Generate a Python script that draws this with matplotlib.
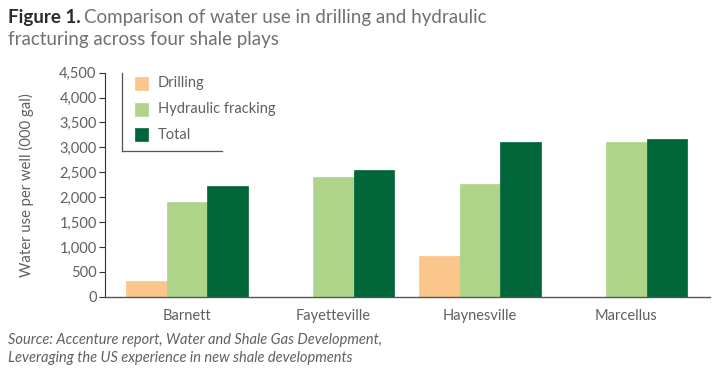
import numpy as np
import matplotlib
matplotlib.use("Agg")
from matplotlib import pyplot as plt
from matplotlib.lines import Line2D
from matplotlib.patches import Rectangle
from matplotlib.ticker import FuncFormatter

# data (thousand gallons per well)
plays = ["Barnett", "Fayetteville", "Haynesville", "Marcellus"]
drilling = [310, 0, 810, 0]
fracking = [1900, 2400, 2270, 3100]
total = [2230, 2550, 3100, 3170]
series_names = ["Drilling", "Hydraulic fracking", "Total"]
series_colors = ["#fbc68a", "#aed48a", "#00663a"]
yticks = [0, 500, 1000, 1500, 2000, 2500, 3000, 3500, 4000, 4500]

plt.rcParams['font.family'] = ['Lato', 'DejaVu Sans']
grey = "#606060"

fig = plt.figure(figsize=(7.2, 3.71), dpi=100)
ax = fig.add_axes([0.1458, 0.2003, 0.8402, 0.6037])

x = np.arange(len(plays))
w = 0.276
for i, (vals, col) in enumerate(zip([drilling, fracking, total], series_colors)):
    ax.bar(x + (i - 1) * w, vals, width=w, color=col, edgecolor=col,
           linewidth=0.5)

ax.set_xlim(-0.56, 3.57)
ax.set_ylim(0, 4500)
ax.set_yticks(yticks)
ax.yaxis.set_major_formatter(FuncFormatter(lambda v, p: f"{int(v):,}"))
ax.set_xticks(x)
ax.set_xticklabels(plays, fontsize=10.5, color=grey)
ax.tick_params(axis='x', length=0, pad=9)
ax.tick_params(axis='y', length=4, width=0.8, color="#333333",
               labelsize=10.5, labelcolor=grey, pad=2)
for s in ["top", "right"]:
    ax.spines[s].set_visible(False)
ax.spines["left"].set_color("#333333")
ax.spines["bottom"].set_color("#555555")
ax.spines["left"].set_linewidth(0.8)
ax.spines["bottom"].set_linewidth(1.0)
ax.set_ylabel("Water use per well (000 gal)", fontsize=10.7, color=grey,
              labelpad=18)

# legend drawn as an open box (left and bottom edges only)
def fx(px):
    return px / 720

def fy(py):
    return 1 - py / 371

fig.add_artist(Line2D([fx(122), fx(122)], [fy(73), fy(151.5)],
                      color="#555555", lw=0.9))
fig.add_artist(Line2D([fx(122), fx(222)], [fy(151.5), fy(151.5)],
                      color="#555555", lw=0.9))
for i, (name, col) in enumerate(zip(series_names, series_colors)):
    yc = 83 + i * 26
    fig.add_artist(Rectangle((fx(134.5), fy(yc + 6.5)), fx(13.5), 13 / 371,
                             facecolor=col, edgecolor=col, lw=0.5))
    fig.text(fx(158), fy(yc), name, fontsize=10.5, color=grey, va="center")

# title in two styles
t1 = fig.text(fx(8), fy(17), "Figure 1.", fontsize=13.5, fontweight="bold",
              color="#2a2a2a", va="center")
fig.canvas.draw()
bb = t1.get_window_extent()
fig.text(bb.x1 / 720 + fx(3), fy(17),
         "Comparison of water use in drilling and hydraulic",
         fontsize=13.5, color="#707070", va="center")
fig.text(fx(8), fy(40), "fracturing across four shale plays",
         fontsize=13.5, color="#707070", va="center")

fig.text(fx(8), fy(340), "Source: Accenture report, Water and Shale Gas Development,",
         fontsize=10.5, style="italic", color=grey, va="center")
fig.text(fx(8), fy(358), "Leveraging the US experience in new shale developments",
         fontsize=10.5, style="italic", color=grey, va="center")

fig.savefig("out.png", dpi=100)
